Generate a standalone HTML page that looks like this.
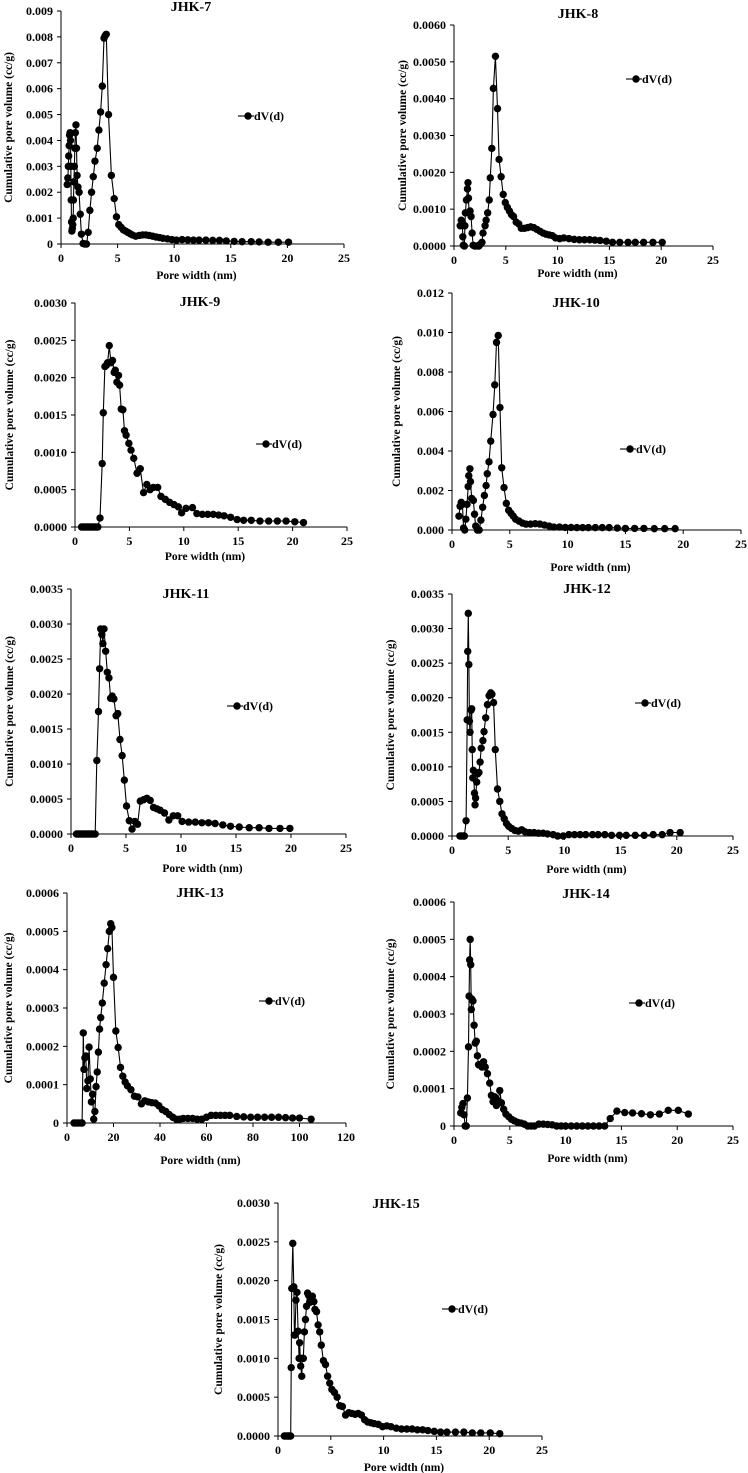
<!DOCTYPE html>
<html><head><meta charset="utf-8">
<style>
html,body{margin:0;padding:0;background:#fff;}
svg{display:block;font-family:"Liberation Serif",serif;font-weight:bold;}
</style></head>
<body>
<svg id="fig" width="748" height="1473" viewBox="0 0 748 1473" xmlns="http://www.w3.org/2000/svg"></svg>
<script>
// ---- data (x: pore width nm, y: value in the panel's unit scale) ----
const jhk7 = [[0.55,2.3],[0.6,2.55],[0.65,3.0],[0.68,3.4],[0.72,3.8],[0.76,4.2],[0.8,4.3],[0.84,4.0],[0.87,3.0],[0.9,1.7],[0.93,0.85],[0.96,0.5],[1.0,0.6],[1.04,0.75],[1.08,1.0],[1.1,1.7],[1.14,2.4],[1.18,3.0],[1.22,3.7],[1.27,4.3],[1.32,4.6],[1.37,3.7],[1.42,2.65],[1.5,2.2],[1.6,2.0],[1.7,1.15],[1.8,0.38],[1.95,0.02],[2.1,0],[2.25,0],[2.4,0.45],[2.55,1.3],[2.7,2.0],[2.85,2.6],[3.0,3.2],[3.2,3.7],[3.35,4.4],[3.5,5.1],[3.65,6.1],[3.8,7.95],[3.9,8.05],[4.0,8.1],[4.2,5.0],[4.45,2.65],[4.7,1.75],[4.9,1.05],[5.1,0.75],[5.3,0.65],[5.5,0.55],[5.7,0.5],[5.9,0.45],[6.1,0.4],[6.3,0.35],[6.6,0.3],[6.9,0.33],[7.2,0.35],[7.5,0.35],[7.8,0.33],[8.1,0.3],[8.4,0.27],[8.7,0.25],[9.0,0.22],[9.4,0.2],[9.8,0.17],[10.2,0.15],[10.7,0.17],[11.2,0.16],[11.7,0.15],[12.2,0.15],[12.8,0.15],[13.4,0.14],[14.0,0.14],[14.6,0.12],[15.3,0.1],[16.0,0.09],[16.8,0.09],[17.5,0.08],[18.3,0.07],[19.2,0.07],[20.1,0.07]];
const jhk8 = [[0.6,0.55],[0.7,0.7],[0.8,0.65],[0.85,0.25],[0.9,0.02],[1.0,0.0],[1.05,0.55],[1.1,0.9],[1.2,1.25],[1.3,1.55],[1.35,1.72],[1.4,1.3],[1.45,0.9],[1.55,0.95],[1.65,0.8],[1.75,0.35],[1.85,0.02],[2.0,0],[2.2,0],[2.4,0],[2.55,0.05],[2.7,0.1],[2.8,0.35],[3.0,0.55],[3.1,0.7],[3.25,0.9],[3.4,1.25],[3.5,1.85],[3.65,2.65],[3.8,4.28],[4.0,5.15],[4.2,3.73],[4.35,2.35],[4.55,1.88],[4.75,1.4],[4.95,1.18],[5.15,1.05],[5.35,0.95],[5.55,0.85],[5.75,0.8],[6.0,0.65],[6.25,0.6],[6.5,0.48],[6.8,0.48],[7.1,0.5],[7.4,0.52],[7.7,0.5],[8.0,0.45],[8.3,0.4],[8.6,0.35],[8.9,0.32],[9.2,0.3],[9.5,0.28],[9.8,0.22],[10.2,0.2],[10.6,0.22],[11.1,0.2],[11.6,0.18],[12.1,0.17],[12.6,0.17],[13.1,0.17],[13.6,0.16],[14.1,0.15],[14.7,0.13],[15.3,0.1],[16.0,0.1],[16.8,0.1],[17.5,0.1],[18.3,0.1],[19.2,0.1],[20.1,0.1]];
const jhk9 = [[0.6,0],[0.75,0],[0.9,0],[1.05,0],[1.2,0],[1.35,0],[1.5,0],[1.65,0],[1.8,0],[1.95,0],[2.1,0],[2.3,0.12],[2.5,0.85],[2.6,1.53],[2.75,2.15],[2.9,2.17],[3.0,2.2],[3.15,2.43],[3.3,2.2],[3.45,2.23],[3.6,2.07],[3.7,2.1],[3.85,1.94],[4.0,2.03],[4.1,1.9],[4.25,1.58],[4.4,1.57],[4.55,1.29],[4.7,1.23],[4.95,1.12],[5.15,1.03],[5.4,0.92],[5.7,0.72],[6.0,0.78],[6.3,0.46],[6.6,0.57],[6.9,0.5],[7.2,0.53],[7.6,0.53],[7.9,0.41],[8.3,0.37],[8.7,0.33],[9.1,0.3],[9.5,0.27],[9.8,0.19],[10.2,0.25],[10.8,0.26],[11.2,0.18],[11.7,0.17],[12.2,0.17],[12.7,0.17],[13.2,0.16],[13.7,0.15],[14.3,0.13],[14.9,0.1],[15.5,0.09],[16.2,0.09],[17.0,0.08],[17.8,0.08],[18.6,0.08],[19.4,0.08],[20.2,0.07],[21.0,0.06]];
const jhk10 = [[0.6,0.7],[0.7,1.2],[0.8,1.4],[0.9,1.3],[1.0,0.1],[1.1,0.0],[1.2,0.55],[1.3,1.3],[1.4,2.2],[1.45,2.75],[1.55,3.1],[1.6,2.45],[1.7,1.6],[1.85,1.5],[1.95,0.8],[2.05,0.2],[2.2,0],[2.35,0.0],[2.5,0.5],[2.65,1.15],[2.8,1.75],[2.95,2.25],[3.05,2.85],[3.2,3.45],[3.35,4.5],[3.55,5.85],[3.7,7.35],[3.85,9.5],[4.0,9.85],[4.15,6.2],[4.3,3.15],[4.5,2.15],[4.7,1.35],[4.9,1.0],[5.1,0.85],[5.3,0.7],[5.5,0.55],[5.8,0.45],[6.1,0.35],[6.4,0.3],[6.8,0.3],[7.2,0.32],[7.6,0.3],[8.0,0.25],[8.4,0.2],[8.8,0.15],[9.3,0.15],[9.8,0.13],[10.3,0.13],[10.8,0.12],[11.3,0.12],[11.8,0.12],[12.4,0.12],[13.0,0.12],[13.6,0.12],[14.3,0.1],[15.0,0.08],[15.8,0.08],[16.6,0.08],[17.5,0.07],[18.4,0.07],[19.3,0.07]];
const jhk11 = [[0.5,0],[0.65,0],[0.8,0],[0.95,0],[1.1,0],[1.25,0],[1.4,0],[1.55,0],[1.7,0],[1.85,0],[2.0,0],[2.2,0],[2.35,1.05],[2.5,1.75],[2.6,2.36],[2.7,2.93],[2.8,2.85],[2.9,2.72],[3.0,2.93],[3.15,2.61],[3.3,2.31],[3.45,2.23],[3.6,1.94],[3.75,1.97],[3.9,1.93],[4.1,1.69],[4.25,1.72],[4.45,1.35],[4.65,1.12],[4.85,0.77],[5.05,0.4],[5.3,0.19],[5.55,0.07],[5.8,0.18],[6.05,0.14],[6.3,0.47],[6.6,0.49],[6.9,0.51],[7.2,0.48],[7.5,0.38],[7.8,0.36],[8.1,0.34],[8.5,0.3],[8.9,0.2],[9.3,0.26],[9.7,0.26],[10.1,0.18],[10.7,0.17],[11.3,0.17],[11.9,0.16],[12.5,0.16],[13.1,0.15],[13.8,0.13],[14.5,0.11],[15.3,0.1],[16.2,0.09],[17.1,0.09],[18.0,0.08],[19.0,0.08],[19.9,0.08]];
const jhk12 = [[0.7,0],[0.85,0],[1.0,0],[1.1,0],[1.25,0.22],[1.35,1.68],[1.4,2.67],[1.45,3.22],[1.5,2.48],[1.55,1.66],[1.6,1.5],[1.7,1.82],[1.75,1.84],[1.8,1.25],[1.85,0.84],[1.9,0.95],[2.0,0.62],[2.05,0.45],[2.1,0.55],[2.2,0.78],[2.3,0.9],[2.4,0.92],[2.5,1.07],[2.6,1.27],[2.75,1.38],[2.85,1.51],[3.0,1.71],[3.15,1.9],[3.3,2.03],[3.45,2.07],[3.55,2.05],[3.7,1.93],[3.85,1.25],[4.05,0.68],[4.25,0.5],[4.45,0.32],[4.65,0.25],[4.85,0.18],[5.05,0.14],[5.3,0.11],[5.6,0.08],[5.9,0.07],[6.2,0.09],[6.5,0.06],[6.9,0.05],[7.3,0.05],[7.7,0.04],[8.1,0.04],[8.5,0.03],[9.0,0.02],[9.4,0],[9.9,0],[10.4,0.02],[10.9,0.02],[11.4,0.02],[11.9,0.02],[12.5,0.02],[13.0,0.02],[13.6,0.02],[14.2,0.01],[14.9,0.01],[15.5,0.01],[16.3,0.01],[17.1,0.01],[17.9,0.02],[18.7,0.02],[19.4,0.05],[20.3,0.05]];
const jhk13 = [[3,0],[4,0],[5,0],[6,0],[6.5,0],[7,2.35],[7.3,1.4],[7.7,1.7],[8.1,1.75],[8.5,0.9],[9,1.1],[9.5,1.98],[10,1.15],[10.5,0.55],[11,0.75],[11.5,0.1],[12,0.3],[12.5,0.95],[13,1.33],[13.5,1.85],[14,2.45],[14.5,2.75],[15.2,3.13],[16,3.65],[16.8,4.13],[17.5,4.55],[18.2,5.0],[18.8,5.2],[19.3,5.1],[20,3.8],[21,2.4],[22,1.97],[23,1.45],[24,1.22],[25,1.07],[26,0.97],[27.5,0.87],[29,0.7],[30.5,0.68],[32,0.5],[33.5,0.58],[35,0.55],[36.5,0.53],[38,0.52],[39.5,0.45],[41,0.35],[42.5,0.3],[44,0.22],[45.5,0.15],[47,0.1],[48.5,0.1],[50,0.12],[52,0.12],[54,0.12],[56,0.1],[58,0.1],[60,0.15],[62,0.2],[64,0.2],[66,0.2],[68,0.2],[70,0.2],[73,0.17],[76,0.16],[79,0.15],[82,0.15],[85,0.15],[88,0.15],[91,0.15],[94,0.14],[97,0.13],[100,0.13],[105,0.1]];
const jhk14 = [[0.6,0.35],[0.7,0.5],[0.8,0.6],[0.9,0.3],[1.0,0],[1.1,0],[1.2,0.75],[1.3,2.12],[1.35,3.48],[1.4,4.45],[1.45,5.0],[1.5,4.32],[1.55,3.12],[1.6,3.4],[1.7,3.35],[1.8,2.7],[1.9,2.22],[2.0,2.27],[2.1,1.88],[2.2,1.64],[2.35,1.65],[2.5,1.58],[2.65,1.72],[2.8,1.58],[3.0,1.4],[3.2,1.15],[3.35,0.82],[3.5,0.65],[3.65,0.78],[3.8,0.55],[3.95,0.68],[4.1,0.95],[4.25,0.62],[4.45,0.45],[4.65,0.32],[4.9,0.25],[5.15,0.18],[5.4,0.14],[5.7,0.1],[6.0,0.08],[6.3,0.05],[6.6,0.0],[6.9,0.0],[7.2,0.0],[7.6,0.05],[8.0,0.05],[8.4,0.04],[8.8,0.03],[9.2,0.0],[9.6,0],[10.0,0],[10.5,0],[11.0,0],[11.5,0],[12.0,0],[12.5,0],[13.0,0],[13.5,0],[14.0,0.2],[14.6,0.4],[15.3,0.36],[16.0,0.35],[16.8,0.33],[17.6,0.3],[18.4,0.32],[19.2,0.42],[20.1,0.42],[21.0,0.32]];
const jhk15 = [[0.6,0],[0.75,0],[0.9,0],[1.0,0],[1.1,0],[1.2,0],[1.25,0.88],[1.3,1.9],[1.4,2.48],[1.5,1.92],[1.55,1.3],[1.6,1.3],[1.7,1.75],[1.8,1.85],[1.9,1.35],[2.0,1.0],[2.05,1.2],[2.15,0.9],[2.25,0.77],[2.3,1.0],[2.4,1.0],[2.5,1.34],[2.6,1.5],[2.7,1.67],[2.8,1.84],[2.9,1.81],[3.0,1.72],[3.1,1.78],[3.25,1.8],[3.4,1.73],[3.5,1.63],[3.65,1.6],[3.8,1.43],[3.95,1.34],[4.1,1.17],[4.3,0.97],[4.5,0.92],[4.7,0.77],[4.9,0.68],[5.1,0.6],[5.35,0.56],[5.6,0.5],[5.85,0.39],[6.1,0.38],[6.4,0.27],[6.7,0.3],[7.0,0.29],[7.3,0.28],[7.6,0.29],[7.9,0.27],[8.2,0.21],[8.5,0.18],[8.8,0.17],[9.1,0.16],[9.5,0.15],[9.9,0.12],[10.3,0.13],[10.7,0.12],[11.2,0.1],[11.7,0.09],[12.2,0.09],[12.7,0.09],[13.2,0.08],[13.7,0.08],[14.2,0.07],[14.8,0.06],[15.4,0.05],[16.0,0.05],[16.8,0.05],[17.6,0.05],[18.4,0.04],[19.2,0.04],[20.1,0.04],[21.0,0.03]];

// y unit scales (data * unit = real value)
const units = [1e-3,1e-3,1e-3,1e-3,1e-3,1e-3,1e-4,1e-4,1e-3];
const titles = ["JHK-7","JHK-8","JHK-9","JHK-10","JHK-11","JHK-12","JHK-13","JHK-14","JHK-15"];
const series = [jhk7,jhk8,jhk9,jhk10,jhk11,jhk12,jhk13,jhk14,jhk15];
const yMax = [0.009,0.006,0.003,0.012,0.0035,0.0035,0.0006,0.0006,0.003];
const yStep = [0.001,0.001,0.0005,0.002,0.0005,0.0005,0.0001,0.0001,0.0005];
const yDec = [3,4,4,3,4,4,4,4,4];
const zeroInt = [true,false,false,false,false,false,true,true,false];
const xMax = [25,25,25,25,25,25,120,25,25];
const xStep = [5,5,5,5,5,5,20,5,5];

// layout (pixel geometry)
const layout = [
 {x0:61,x1:344,y0:244,y1:11,tx:191,ty:6,lx:248,ly:116,ylx:8,xly:275},
 {x0:454,x1:713,y0:246,y1:25,tx:578,ty:13,lx:636,ly:79,ylx:402,xly:273},
 {x0:75,x1:347,y0:527,y1:303,tx:200,ty:301,lx:266,ly:444,ylx:9,xly:556},
 {x0:452,x1:741,y0:530,y1:293,tx:576,ty:302,lx:630,ly:449,ylx:396,xly:567},
 {x0:71,x1:346,y0:834,y1:589,tx:186,ty:593,lx:237,ly:706,ylx:9,xly:868},
 {x0:452,x1:733,y0:836,y1:594,tx:587,ty:588,lx:645,ly:703,ylx:390,xly:869},
 {x0:67,x1:346,y0:1123,y1:893,tx:200,ty:892,lx:269,ly:1001,ylx:8,xly:1160},
 {x0:454,x1:733,y0:1126,y1:902,tx:586,ty:893,lx:639,ly:1003,ylx:390,xly:1158},
 {x0:278,x1:542,y0:1436,y1:1203,tx:396,ty:1203,lx:452,ly:1309,ylx:218,xly:1467}
];

const NS="http://www.w3.org/2000/svg";
const svg=document.getElementById('fig');
function mk(tag,attrs,parent){const e=document.createElementNS(NS,tag);for(const k in attrs)e.setAttribute(k,attrs[k]);(parent||svg).appendChild(e);return e;}

series.forEach((data,i)=>{
  const L=layout[i];
  const g=mk('g',{});
  
  
  const sx=v=>L.x0+(v/xMax[i])*(L.x1-L.x0);
  const sy=v=>L.y0-(v/yMax[i])*(L.y0-L.y1);
  // axes
  const ya=mk('line',{x1:L.x0,y1:L.y1,x2:L.x0,y2:L.y0,stroke:'#000','stroke-width':1},g);
  
  
  const xa=mk('line',{x1:L.x0,y1:L.y0,x2:L.x1,y2:L.y0,stroke:'#000','stroke-width':1},g);
  
  
  // y ticks
  const ny=Math.round(yMax[i]/yStep[i]);
  for(let k=0;k<=ny;k++){
    const v=k*yStep[i], y=sy(v);
    mk('line',{x1:L.x0-4,y1:y,x2:L.x0,y2:y,stroke:'#000','stroke-width':1},g);
    const t=mk('text',{x:L.x0-8,y:y+4,'text-anchor':'end','font-size':12},g);
    t.textContent=(k===0&&zeroInt[i])?'0':v.toFixed(yDec[i]);
    
    
  }
  // x ticks
  const nx=Math.round(xMax[i]/xStep[i]);
  for(let k=0;k<=nx;k++){
    const v=k*xStep[i], x=sx(v);
    mk('line',{x1:x,y1:L.y0,x2:x,y2:L.y0+4,stroke:'#000','stroke-width':1},g);
    const t=mk('text',{x:x,y:L.y0+18,'text-anchor':'middle','font-size':12},g);
    t.textContent=String(v);
    
    
  }
  // titles and labels
  const tt=mk('text',{x:L.tx,y:L.ty+5,'text-anchor':'middle','font-size':14},g);
  tt.textContent=titles[i];
  
  
  const xl=mk('text',{x:(L.x0+L.x1)/2-6,y:L.xly+4,'text-anchor':'middle','font-size':11.5},g);
  xl.textContent='Pore width (nm)';
  
  
  const cy=(L.y0+L.y1)/2;
  const yl=mk('text',{x:L.ylx+4,y:cy,'text-anchor':'middle','font-size':11.5,transform:`rotate(-90 ${L.ylx+4} ${cy})`},g);
  yl.textContent='Cumulative pore volume  (cc/g)';
  
  
  // series line
  const pts=data.map(d=>sx(d[0]).toFixed(1)+','+sy(d[1]*units[i]).toFixed(1)).join(' ');
  const pl=mk('polyline',{points:pts,fill:'none',stroke:'#000','stroke-width':1.1},g);
  
  
  data.forEach(d=>{
    const c=mk('circle',{cx:sx(d[0]),cy:sy(d[1]*units[i]),r:3.7,fill:'#000'},g);
    
    
  });
  // legend
  const lg=mk('g',{},g);
  
  
  mk('line',{x1:L.lx-10,y1:L.ly,x2:L.lx+6,y2:L.ly,stroke:'#000','stroke-width':1.1},lg);
  mk('circle',{cx:L.lx,cy:L.ly,r:3.7,fill:'#000'},lg);
  const lt=mk('text',{x:L.lx+6,y:L.ly+4,'font-size':12},lg);
  lt.textContent='dV(d)';
});
</script>
</body></html>
